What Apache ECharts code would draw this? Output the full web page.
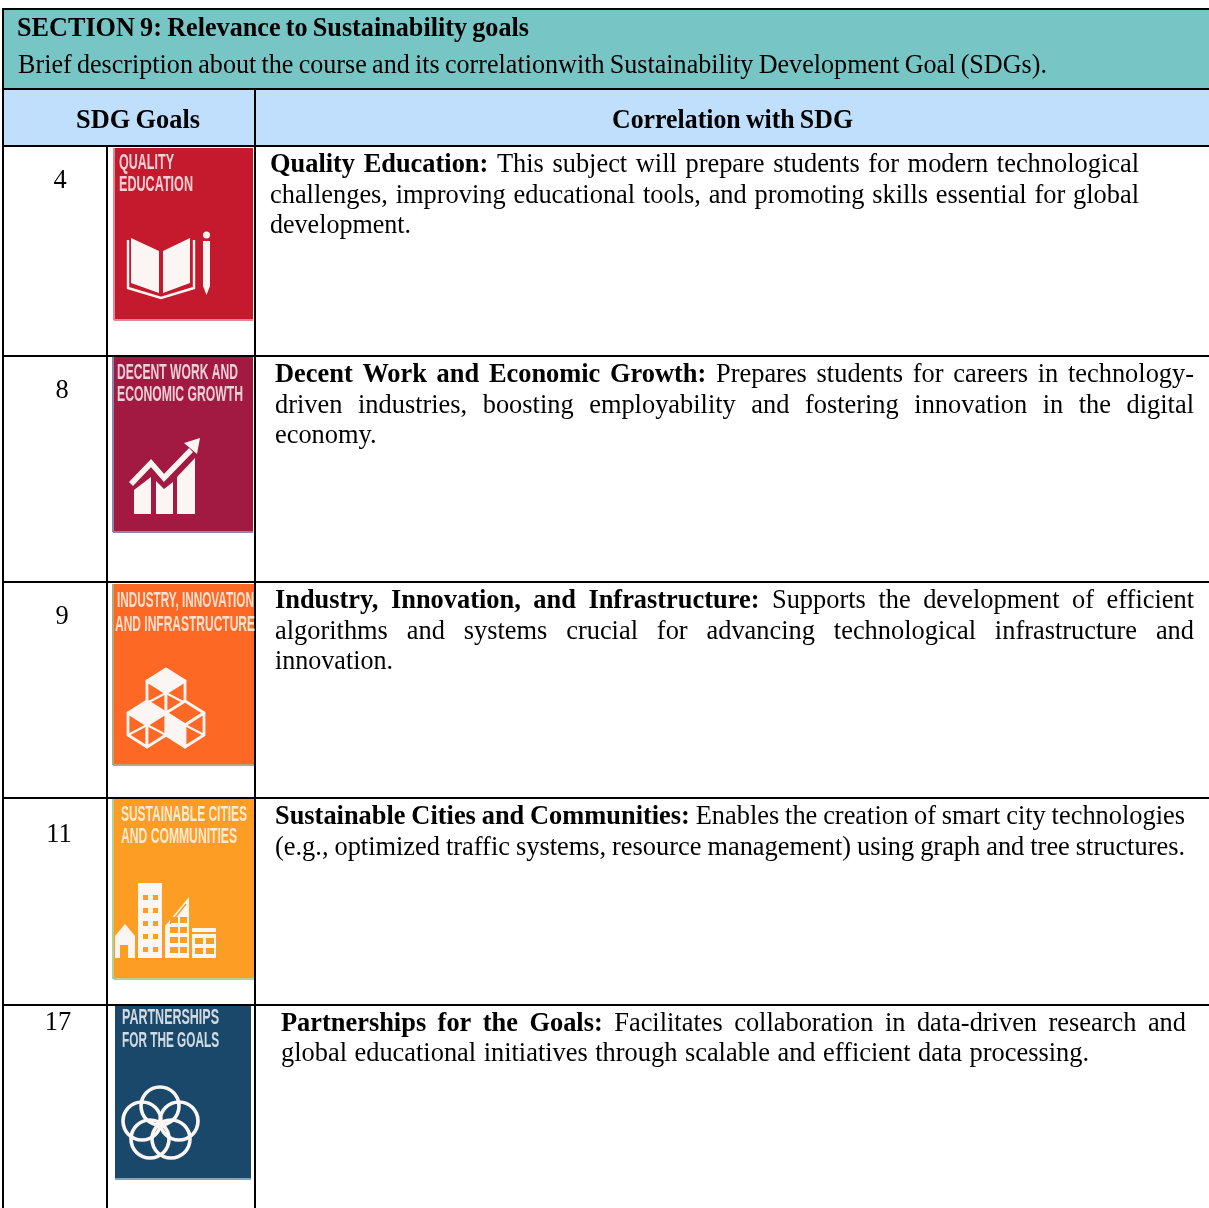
<!DOCTYPE html>
<html>
<head>
<meta charset="utf-8">
<title>SECTION 9</title>
<style>
  html,body{margin:0;padding:0;background:#fff;}
  #main{width:1209px;height:1208px;}
</style>
<script src="https://cdn.jsdelivr.net/npm/echarts@6/dist/echarts.min.js"></script>
</head>
<body>
<div id="main"></div>
<script>
// table text
var sectionTitle = 'SECTION 9: Relevance to Sustainability goals';
var sectionDesc = 'Brief description about the course and its correlationwith Sustainability Development Goal (SDGs).';
var headLeft = 'SDG Goals';
var headRight = 'Correlation with SDG';
var goalNumbers = ['4', '8', '9', '11', '17'];
var goalColors = ['#c5192d', '#a21942', '#fd6925', '#fd9d24', '#19486a'];
var goalLabels = [
  ['QUALITY', 'EDUCATION'],
  ['DECENT WORK AND', 'ECONOMIC GROWTH'],
  ['INDUSTRY, INNOVATION', 'AND INFRASTRUCTURE'],
  ['SUSTAINABLE CITIES', 'AND COMMUNITIES'],
  ['PARTNERSHIPS', 'FOR THE GOALS']
];
var goalBold = [
  'Quality Education:',
  'Decent Work and Economic Growth:',
  'Industry, Innovation, and Infrastructure:',
  'Sustainable Cities and Communities:',
  'Partnerships for the Goals:'
];
var goalLines = [
  ['This subject will prepare students for modern technological', 'challenges, improving educational tools, and promoting skills essential for global', 'development.'],
  ['Prepares students for careers in technology-', 'driven industries, boosting employability and fostering innovation in the digital', 'economy.'],
  ['Supports the development of efficient', 'algorithms and systems crucial for advancing technological infrastructure and', 'innovation.'],
  ['Enables the creation of smart city technologies', '(e.g., optimized traffic systems, resource management) using graph and tree structures.'],
  ['Facilitates collaboration in data-driven research and', 'global educational initiatives through scalable and efficient data processing.']
];

var SERIF = '"Liberation Serif","Times New Roman",serif';
var SIZE = 26.4;
var els = [];
var ctx = document.createElement('canvas').getContext('2d');

function measure(str, font){
  ctx.font = font;
  return ctx.measureText(str).width;
}

function addText(str, x, y, font, fill, sx, align, blur){
  var style = {text: str, x: 0, y: 0, font: font, fill: fill || '#000', textAlign: align || 'left', textVerticalAlign: 'middle'};
  if(blur){
    style.shadowBlur = blur;
    style.shadowColor = 'rgba(255,255,255,0.7)';
  }
  els.push({type: 'text', x: x, y: y, scaleX: sx || 1, z: 5, silent: true, style: style});
}

// lays a line word by word between x0 and x1: wider gaps if there is room, squeezed if not
function addLine(parts, x0, x1, y, size){
  var words = [];
  parts.forEach(function(p){
    var font = (p.bold ? 'bold ' : '') + size + 'px ' + SERIF;
    p.text.split(' ').forEach(function(w){
      words.push({t: w, font: font, w: measure(w, font)});
    });
  });
  var sum = 0;
  words.forEach(function(w){ sum += w.w; });
  var space = size * 0.2;
  var natural = sum + space * (words.length - 1);
  var target = x1 - x0;
  var sx = 1, gap = space;
  if(natural > target){
    sx = target / natural;
  }else if(words.length > 1){
    gap = (target - sum) / (words.length - 1);
  }
  var x = x0;
  words.forEach(function(w){
    addText(w.t, x, y, w.font, '#000', sx);
    x += (w.w + gap) * sx;
  });
}

function addRect(x, y, w, h, fill, z){
  els.push({type: 'rect', z: z || 1, silent: true, shape: {x: x, y: y, width: w, height: h}, style: {fill: fill}});
}
function addBorder(x1, y1, x2, y2){
  els.push({type: 'line', z: 4, silent: true, shape: {x1: x1, y1: y1, x2: x2, y2: y2}, style: {stroke: '#000', lineWidth: 2}});
}
function poly(points, fill, stroke, lw){
  els.push({type: 'polygon', z: 3, silent: true, shape: {points: points},
    style: {fill: fill || 'none', stroke: stroke || 'none', lineWidth: lw || 0, lineJoin: 'round'}});
}
function path(points, stroke, lw){
  els.push({type: 'polyline', z: 3, silent: true, shape: {points: points},
    style: {fill: 'none', stroke: stroke, lineWidth: lw, lineJoin: 'miter'}});
}

var W = '#fbf6f3';

function bookIcon(){
  poly([[131,238],[159,251],[159,293],[131,283]], W);
  poly([[163,251],[190,238],[190,283],[163,293]], W);
  path([[128,240],[128,288],[161,298],[194,288],[194,240]], W, 2.4);
  poly([[203,241],[210,241],[210,286],[206.5,295],[203,286]], W);
  els.push({type: 'circle', z: 3, silent: true, shape: {cx: 206.5, cy: 235, r: 3.5}, style: {fill: W}});
}

function growthIcon(){
  poly([[134,490],[151,477],[151,514],[134,514]], W);
  poly([[156,481],[164,489],[173,482],[173,514],[156,514]], W);
  poly([[177,477],[195,458],[195,514],[177,514]], W);
  path([[131,484],[151,463],[164,478],[191,450]], W, 5.5);
  poly([[184,443],[200,438],[197,454]], W);
}

function cube(x, y, hw, rise, h, face, col){
  var top = [[x,y],[x+hw,y+rise],[x,y+2*rise],[x-hw,y+rise]];
  var left = [[x-hw,y+rise],[x,y+2*rise],[x,y+2*rise+h],[x-hw,y+rise+h]];
  var right = [[x+hw,y+rise],[x,y+2*rise],[x,y+2*rise+h],[x+hw,y+rise+h]];
  var faces = {top: top, left: left, right: right};
  ['top','left','right'].forEach(function(k){
    poly(faces[k], k === face ? W : col, W, 2.8);
  });
  els.push({type: 'line', z: 3, silent: true, shape: {x1: x-hw, y1: y+rise+h, x2: x, y2: y+2*rise}, style: {stroke: W, lineWidth: 2}});
  els.push({type: 'line', z: 3, silent: true, shape: {x1: x+hw, y1: y+rise+h, x2: x, y2: y+2*rise}, style: {stroke: W, lineWidth: 2}});
}
function cubesIcon(col){
  cube(166, 669, 19, 12, 22, 'top', col);
  cube(147, 701, 19, 12, 22, 'top', col);
  cube(185, 701, 19, 12, 22, 'left', col);
}

function cityIcon(col){
  addRect(138, 883, 24, 75, W, 3);
  [895, 908, 921, 934, 947].forEach(function(y){
    addRect(143, y, 5, 5, col, 3);
    addRect(153, y, 5, 5, col, 3);
  });
  poly([[165,926],[189,897],[189,958],[165,958]], W);
  path([[170,924],[186,904]], col, 1.5);
  [917, 927, 937, 947].forEach(function(y){
    addRect(170, y, 8, 6, col, 3);
    addRect(180, y, 7, 6, col, 3);
  });
  addRect(192, 928, 24, 30, W, 3);
  addRect(192, 932, 24, 2, col, 3);
  [938, 948].forEach(function(y){
    addRect(195, y, 8, 6, col, 3);
    addRect(206, y, 8, 6, col, 3);
  });
  poly([[115,936],[125,924],[135,936],[135,958],[115,958]], W);
  addRect(120, 945, 8, 13, col, 3);
}

function ringsIcon(){
  [[160,1106],[142,1121],[179,1121],[150,1139],[171,1139]].forEach(function(c){
    els.push({type: 'circle', z: 3, silent: true, shape: {cx: c[0], cy: c[1], r: 19}, style: {fill: 'none', stroke: W, lineWidth: 3.6}});
  });
}

// layout of the table
var rowLines = [146, 356, 582, 798, 1005];
var numPos = [[60,181],[62,391],[62,617],[59,835],[58,1023]];
var iconBox = [[114,148,253,320],[113,357,253,532],[113,584,255,765],[113,799,254,979],[115,1006,251,1179]];
var iconEdge = ['#d98a95', '#8b87a8', '#b9a77c', '#b9cf8f', '#7fa6bd'];
var labelPos = [
  [[119,174,163],[119,193,185]],
  [[117,238,373],[117,243,395]],
  [[117,254,601],[115,255,625]],
  [[121,247,815],[121,237,837]],
  [[122,219,1018],[122,219,1041]]
];
var textBox = [[270,1139],[275,1194],[275,1194],[275,1185],[281,1186]];
var textY = [[165,196,226],[375,406,436],[601,632,662],[817,848],[1024,1054]];
// right end of the short closing line of each block
var lastEnd = [411, 377, 393, 1185, 1089];

addRect(3, 10, 1206, 79, '#77c5c5');
addRect(3, 90, 1206, 56, '#bfdffd');

addLine([{text: sectionTitle, bold: true}], 17, 529, 29, SIZE);
addLine([{text: sectionDesc}], 18, 1047, 66, SIZE);
addLine([{text: headLeft, bold: true}], 76, 200, 121, SIZE);
addLine([{text: headRight, bold: true}], 612, 853, 121, SIZE);

addBorder(2, 9, 1209, 9);
addBorder(3, 9, 3, 1208);
addBorder(3, 89, 1209, 89);
addBorder(107, 146, 107, 1208);
addBorder(255, 89, 255, 1208);
rowLines.forEach(function(y){ addBorder(3, y, 1209, y); });

goalNumbers.forEach(function(n, i){
  addText(n, numPos[i][0], numPos[i][1], SIZE + 'px ' + SERIF, '#000', 1, 'center');

  var b = iconBox[i];
  addRect(b[0], b[1], b[2]-b[0], b[3]-b[1], goalColors[i], 2);
  addRect(b[0], b[3]-1, b[2]-b[0], 2, iconEdge[i], 2);
  if(i < 4){
    addRect(b[0]-1, b[1], 2, b[3]-b[1], iconEdge[i], 2);
  }

  goalLabels[i].forEach(function(lab, k){
    var p = labelPos[i][k];
    var font = 'bold 22px "Liberation Sans Narrow","Liberation Sans",sans-serif';
    addText(lab, p[0], p[2], font, 'rgba(255,255,255,0.8)', (p[1]-p[0]) / measure(lab, font), 'left', 2);
  });

  var lines = goalLines[i];
  lines.forEach(function(t, k){
    var parts = k === 0 ? [{text: goalBold[i], bold: true}, {text: t}] : [{text: t}];
    var x1 = k === lines.length - 1 ? lastEnd[i] : textBox[i][1];
    addLine(parts, textBox[i][0], x1, textY[i][k], SIZE);
  });
});

bookIcon();
growthIcon();
cubesIcon(goalColors[2]);
cityIcon(goalColors[3]);
ringsIcon();

var chart = echarts.init(document.getElementById('main'));
chart.setOption({
  animation: false,
  backgroundColor: '#ffffff',
  graphic: {elements: els}
});
</script>
</body>
</html>
